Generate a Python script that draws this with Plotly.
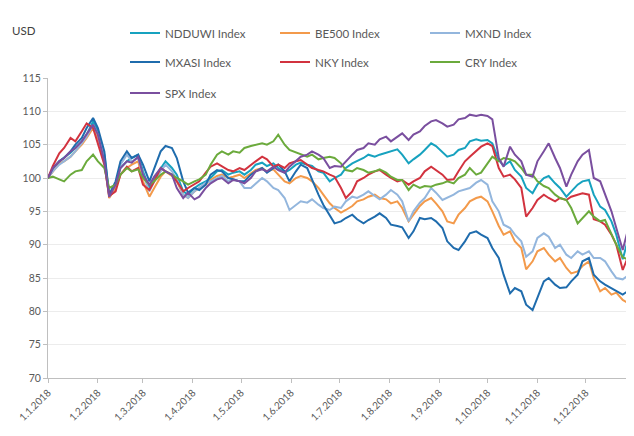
import plotly.graph_objects as go
import pandas as pd

# Sample dates: Mondays and Thursdays of 2018
mondays = pd.date_range("2018-01-01", "2018-12-31", freq="W-MON")
thursdays = pd.date_range("2018-01-01", "2018-12-31", freq="W-THU")
dates = sorted(list(mondays) + list(thursdays))

tick_dates = ["2018-01-01", "2018-02-01", "2018-03-01", "2018-04-01", "2018-05-01", "2018-06-01",
              "2018-07-01", "2018-08-01", "2018-09-01", "2018-10-01", "2018-11-01", "2018-12-01"]
tick_labels = ["1.1.2018", "1.2.2018", "1.3.2018", "1.4.2018", "1.5.2018", "1.6.2018",
               "1.7.2018", "1.8.2018", "1.9.2018", "1.10.2018", "1.11.2018", "1.12.2018"]
y_ticks = [70, 75, 80, 85, 90, 95, 100, 105, 110, 115]

ndduwi = [100, 101.2, 102.5, 103, 103.8, 104.5, 105.5, 106.5,
          108.5, 107, 103.5, 97.5, 99, 101.5, 102.5, 103,
          103.5, 101, 98.5, 100, 101.5, 102.5, 101.5, 100.5,
          98, 97.5, 98.5, 99, 99.5, 100, 101, 101.2,
          100.5, 100.8, 101, 100.5, 101.2, 102, 102.3, 101.8,
          102.2, 101.5, 100.8, 101.2, 102, 102.3, 102, 101.8,
          101, 100.8, 99.5, 100, 100.5, 101.5, 102.2, 102.5,
          103, 103.5, 103.2, 103.5, 103.8, 104, 104.3, 103.5,
          102.2, 102.8, 103.5, 104.2, 105.2, 104.8, 103.8, 103.2,
          103.5, 104.2, 104.5, 105.5, 105.8, 105.6, 105.7, 105.2,
          102.7, 101.8, 102.5, 101.2, 100.2, 98.5, 97.7, 99,
          100, 100.3, 99.2, 98.5, 97.2, 98, 99, 99.5,
          99.7, 97.5, 95.7, 95.2, 93.5, 91.5, 87.8, 90.5,
          91.7]

be500 = [100, 101, 102.2, 102.5, 103.2, 104, 105, 106,
         107.5, 106, 102.5, 97, 98.5, 100.5, 101.5, 102,
         102.5, 99.5, 97.2, 98.5, 100.2, 101, 100.3, 99.5,
         97.5, 97, 98, 98.5, 99, 99.7, 100.3, 100.5,
         100, 100.2, 100.5, 100, 100.7, 101.2, 101.5, 101,
         101.3, 100.5, 99.5, 99.2, 100, 100.3, 100, 99.5,
         98.5, 97.5, 96.2, 95.5, 94.8, 95.2, 95.8, 96.5,
         96.8, 97.2, 97.5, 97, 96.8, 96.2, 96.5, 95.5,
         93.5, 94.5, 95.8, 96.5, 97, 96.2, 95, 93.5,
         93.2, 94.5, 95.5, 96.5, 97, 97.2, 96.5, 95,
         92.8, 91.5, 92, 90.5, 89.5, 86.3, 87.5, 89,
         89.5, 88.5, 87.5, 88, 86.5, 85.7, 86, 86.8,
         87.5, 85, 83, 83.5, 82.5, 82.8, 81.7, 81.3,
         80.8]

mxnd = [100, 101, 102, 102.5, 103.2, 104, 105.2, 106.2,
        108, 106.5, 103, 97.2, 99, 102, 103.5, 102.5,
        103, 100.5, 98, 99.5, 101, 102, 101, 99.8,
        97.5, 97, 98, 98.5, 99.3, 99.5, 100, 100.3,
        99.5, 99.8, 99.5, 98.5, 98.5, 99.2, 100, 99.5,
        98.5, 98.2, 97, 95.2, 96, 96.5, 96.3, 96.8,
        96, 95.5, 95.2, 95.7, 95.5, 96.5, 97.2, 97,
        97.5, 98, 97.3, 96.8, 97.5, 98.2, 97.5, 96.5,
        93.5, 95, 96.3, 97, 98.5, 97.8, 96.7, 97,
        97.5, 98, 98.3, 98.5, 99.3, 99.7, 99, 96.5,
        95, 93, 92.5, 91.5, 90.5, 88.2, 89, 91,
        91.7, 91.2, 89.5, 90, 88.5, 88, 89, 88.5,
        89, 88, 88, 87.5, 86, 85, 84.8, 85.3,
        85.7]

mxasi = [100, 101.5, 102.5, 103, 104, 105, 106, 107.5,
         109, 107.5, 104, 97.5, 99.5, 102.5, 104, 103,
         103.5, 102, 99.5, 101.5, 104, 104.8, 104.5, 103,
         99.5, 97.8, 98.5, 98.2, 99, 100.5, 101.2, 101,
         100, 99.8, 99.5, 99.5, 100.5, 101, 101.5, 100.8,
         101.5, 102, 101, 99.5, 101, 102, 101.5, 99.7,
         97.5, 96, 94.5, 93.2, 93.5, 94, 94.5, 93.8,
         93.2, 93.7, 94.2, 94.7, 94, 93, 92.8, 92.6,
         91, 92, 94, 93.8, 94, 93.5, 92.5, 90.5,
         89.5, 89.2, 90.5, 91.7, 92, 91.5, 91, 89.5,
         88, 85.5, 82.7, 83.5, 83, 81, 80.2, 82,
         84.5, 85, 84, 83.5, 83.6, 84.5, 85.5, 87.5,
         88, 85.5, 84.5, 84, 83.5, 83, 82.5, 83,
         83.6]

nky = [100, 101.8, 103.7, 104.5, 106, 105.5, 107, 108.2,
       107.5, 105, 102, 97.3, 98, 100.5, 101.7, 101,
       101.5, 99, 98.2, 99.5, 101.5, 101, 100.5, 99.5,
       98, 98.5, 99, 99.5, 100.8, 101.7, 102.2, 101.8,
       101.2, 101, 101.5, 101.2, 102, 102.5, 103.2, 102.8,
       101.7, 102, 101.5, 102.2, 102.5, 102.7, 102, 101.5,
       101.2, 101, 100.5, 100.2, 98.5, 97, 98, 99.5,
       100, 100.5, 101, 101.2, 100.5, 100, 99.5, 99.7,
       99, 99.5, 100, 101, 101.7, 101.2, 100.5, 99.7,
       99.8, 101, 102.5, 103.2, 104, 104.7, 105.2, 104.8,
       101.5, 100.2, 100.5, 99.8, 98.5, 94.2, 95.5, 96.7,
       97.5, 97, 96.5, 97, 96.7, 97.2, 97.5, 97.7,
       97.5, 93.8, 93.5, 93, 91.5, 90, 86.2, 88,
       89.6]

cry = [100, 100.2, 99.8, 99.5, 100.5, 101, 101.2, 102.5,
       103.5, 102.5, 101.5, 98.5, 99, 100.5, 101.5, 101,
       101.3, 100, 99, 99.5, 100.5, 101, 100.5, 100,
       99.5, 99, 99.5, 99.8, 100.5, 102, 103.5, 104,
       103.5, 104, 103.8, 104.5, 104.8, 105, 105.2, 105,
       105.5, 106.5, 105, 104.2, 103.8, 103.5, 103.2, 103.5,
       102.8, 103, 103.2, 103, 102.2, 101.2, 101, 101.5,
       101.2, 100.8, 101, 101.3, 100.8, 100.2, 99.7, 99.7,
       98.2, 99, 98.5, 98.8, 98.7, 99, 99.2, 99.5,
       99.2, 100, 100.5, 101.5, 100.5, 100.8, 102.2, 103.2,
       102.5, 103, 102.8, 102.5, 101.5, 100.5, 100.5, 99.5,
       98.8, 98.5, 97.5, 97, 96.7, 95.5, 93.2, 94,
       95, 94.2, 93.5, 93.7, 91.5, 90, 88.1, 87.8,
       88.2]

spx = [100, 101.5, 102.5, 103, 104, 104.5, 105.5, 106.5,
       108, 106.5, 102.5, 97.2, 99, 101.5, 102.5, 102.3,
       103.2, 100.5, 99, 100.2, 101.5, 101, 100.5, 98.5,
       97, 97.8, 96.8, 97.2, 98.5, 99.2, 99.8, 100,
       99.2, 99.7, 99.5, 99.2, 100, 101, 101.3, 101,
       101.7, 101.2, 100.8, 101.7, 102.5, 103.2, 103.5, 104,
       103.5, 103, 101.5, 101.8, 101.7, 102.5, 103.5, 104.2,
       104.5, 105.2, 105, 105.8, 106.2, 105.5, 106.2, 106.7,
       105.7, 106.5, 107, 107.8, 108.5, 108.7, 108.2, 107.7,
       108, 108.8, 109, 109.5, 109.3, 109.5, 109.3, 108.8,
       103, 101.7, 104.7, 103.5, 102.5, 100.5, 100.2, 102.5,
       104, 105.2, 103, 101.5, 98.7, 100.5, 102.5, 103.5,
       104.2, 100, 99.5, 97.6, 95, 92.5, 89.2, 92,
       93]

series_names = ["NDDUWI Index", "BE500 Index", "MXND Index", "MXASI Index",
                "NKY Index", "CRY Index", "SPX Index"]
series_values = [ndduwi, be500, mxnd, mxasi, nky, cry, spx]
series_colors = ["#17a2bf", "#f39a4b", "#93b6dd", "#1f6cad", "#d2333f", "#6baa3c", "#7a4f9f"]

for v in series_values:
    assert len(v) == len(dates), (len(v), len(dates))

FONT = "Lato, 'Liberation Sans', sans-serif"

# The page body adds an 8px offset, so the figure is 8px smaller and
# every reference-pixel position is shifted by -8.
OFF = 8
W, H = 634 - OFF, 436 - OFF
L, R, T, B = 48 - OFF, 0, 78 - OFF, 436 - 378
pw, ph = W - L - R, H - T - B


def px_x(px):
    return (px - OFF - L) / pw


def px_y(py):
    return 1 + (T - (py - OFF)) / ph


# legend box positions (left px, centre px) in reference pixels, 3 per row
legend_pos = [(125, 33), (275, 33), (425, 33),
              (125, 62), (275, 62), (425, 62),
              (125, 93)]
legend_ids = ["legend"] + ["legend%d" % i for i in range(2, 8)]

fig = go.Figure()
for name, vals, col, lg in zip(series_names, series_values, series_colors, legend_ids):
    fig.add_trace(go.Scatter(x=dates, y=vals, name=name, mode="lines",
                             line=dict(color=col, width=2), legend=lg))

legend_layout = {}
for lg, (lx, ly) in zip(legend_ids, legend_pos):
    legend_layout[lg] = dict(x=px_x(lx), y=px_y(ly), xanchor="left", yanchor="middle",
                             orientation="h", itemwidth=30, bgcolor="rgba(0,0,0,0)",
                             font=dict(family=FONT, size=11.5, color="#595959"))

fig.update_layout(
    width=W, height=H,
    margin=dict(l=L, r=R, t=T, b=B, autoexpand=False),
    paper_bgcolor="white", plot_bgcolor="white",
    font=dict(family=FONT, size=10.5, color="#595959"),
    showlegend=True,
    xaxis=dict(range=["2018-01-01", "2018-12-31"], tickvals=tick_dates, ticktext=tick_labels,
               tickangle=-45, ticks="outside", ticklen=4, tickcolor="#bfbfbf",
               showline=True, linecolor="#bfbfbf", linewidth=1, showgrid=False, zeroline=False,
               tickfont=dict(family=FONT, size=10, color="#595959")),
    yaxis=dict(range=[70, 115], tickvals=y_ticks, ticks="outside", ticklen=4, tickcolor="#bfbfbf",
               showline=True, linecolor="#bfbfbf", linewidth=1, showgrid=True, gridcolor="#ececec",
               zeroline=False, tickfont=dict(family=FONT, size=10.5, color="#595959")),
    annotations=[dict(text="USD", x=px_x(10), y=px_y(31), xref="paper", yref="paper",
                      xanchor="left", yanchor="middle", showarrow=False,
                      font=dict(family=FONT, size=11.5, color="#404040"))],
    **legend_layout,
)

fig.write_html("out.html")
